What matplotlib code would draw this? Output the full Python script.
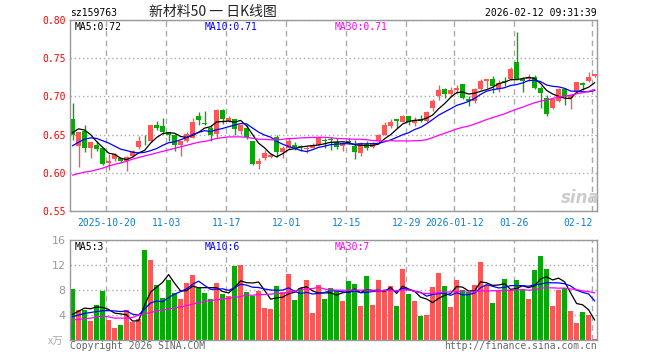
import matplotlib.pyplot as plt
import numpy as np
import pandas as pd

# daily candles, 2025-10-10 .. 2026-02-12 (88 trading days)
opens = [0.671, 0.635, 0.655, 0.632, 0.637, 0.632, 0.613, 0.618, 0.619, 0.616,
         0.622, 0.634, 0.642, 0.641, 0.662, 0.661, 0.653, 0.650, 0.636, 0.641,
         0.646, 0.674, 0.665, 0.658, 0.651, 0.682, 0.6675, 0.671, 0.655, 0.659,
         0.641, 0.612, 0.620, 0.621, 0.647, 0.627, 0.6325, 0.637, 0.634, 0.631,
         0.6325, 0.637, 0.642, 0.6434, 0.640, 0.6346, 0.641, 0.6355, 0.626, 0.638,
         0.6335, 0.641, 0.650, 0.661, 0.6706, 0.667, 0.674, 0.6654, 0.671, 0.668,
         0.6846, 0.7004, 0.7101, 0.7026, 0.7079, 0.7158, 0.696, 0.6938, 0.7101, 0.7201,
         0.7232, 0.7092, 0.7195, 0.7224, 0.7451, 0.7232, 0.7224, 0.7259, 0.7105, 0.6983,
         0.6842, 0.6938, 0.7101, 0.6983, 0.7070, 0.7171, 0.7201, 0.7267]
highs = [0.691, 0.654, 0.662, 0.640, 0.641, 0.633, 0.624, 0.626, 0.620, 0.622,
         0.630, 0.648, 0.650, 0.662, 0.668, 0.672, 0.654, 0.651, 0.642, 0.654,
         0.672, 0.680, 0.681, 0.663, 0.684, 0.683, 0.675, 0.671, 0.663, 0.663,
         0.641, 0.620, 0.630, 0.626, 0.649, 0.6355, 0.6457, 0.640, 0.637, 0.6355,
         0.639, 0.647, 0.6457, 0.647, 0.6457, 0.640, 0.6457, 0.6434, 0.640, 0.641,
         0.640, 0.651, 0.666, 0.6706, 0.671, 0.6763, 0.675, 0.673, 0.6763, 0.681,
         0.697, 0.7145, 0.711, 0.7124, 0.7145, 0.7165, 0.7004, 0.7114, 0.7232, 0.7224,
         0.7267, 0.721, 0.7259, 0.7386, 0.7846, 0.7259, 0.729, 0.7276, 0.7136, 0.7013,
         0.697, 0.711, 0.7114, 0.702, 0.7188, 0.7188, 0.732, 0.729]
lows = [0.643, 0.608, 0.627, 0.620, 0.629, 0.610, 0.604, 0.616, 0.613, 0.603,
        0.621, 0.631, 0.636, 0.640, 0.656, 0.651, 0.641, 0.629, 0.622, 0.640,
        0.645, 0.663, 0.663, 0.642, 0.645, 0.664, 0.666, 0.650, 0.651, 0.644,
        0.6105, 0.605, 0.617, 0.620, 0.621, 0.620, 0.631, 0.630, 0.628, 0.626,
        0.632, 0.636, 0.6325, 0.630, 0.631, 0.628, 0.638, 0.618, 0.622, 0.630,
        0.633, 0.640, 0.649, 0.659, 0.659, 0.666, 0.6632, 0.661, 0.666, 0.667,
        0.6807, 0.6951, 0.6983, 0.701, 0.7026, 0.697, 0.6873, 0.6917, 0.7084, 0.7114,
        0.7049, 0.706, 0.7136, 0.721, 0.721, 0.7059, 0.7201, 0.7092, 0.6842, 0.675,
        0.6829, 0.6925, 0.6882, 0.6829, 0.7057, 0.7084, 0.7182, 0.725]
closes = [0.649, 0.653, 0.632, 0.640, 0.631, 0.611, 0.615, 0.624, 0.615, 0.621,
          0.628, 0.642, 0.641, 0.662, 0.658, 0.653, 0.649, 0.637, 0.641, 0.651,
          0.667, 0.669, 0.6645, 0.650, 0.682, 0.670, 0.672, 0.657, 0.662, 0.647,
          0.612, 0.616, 0.626, 0.623, 0.627, 0.633, 0.642, 0.633, 0.6335, 0.6325,
          0.637, 0.6457, 0.6415, 0.643, 0.634, 0.639, 0.6405, 0.627, 0.6395, 0.6325,
          0.639, 0.650, 0.662, 0.666, 0.6675, 0.6737, 0.6667, 0.6697, 0.6675, 0.680,
          0.6937, 0.7079, 0.7036, 0.7079, 0.7114, 0.698, 0.6945, 0.7092, 0.7201, 0.7224,
          0.7136, 0.7180, 0.7190, 0.7364, 0.7232, 0.7201, 0.7259, 0.7114, 0.704, 0.6776,
          0.697, 0.7101, 0.6996, 0.7013, 0.7188, 0.7149, 0.7254, 0.729]
# volume, in 万
volumes = [8.16, 4.80, 4.80, 3.04, 5.60, 7.84, 3.20, 1.87, 2.40, 4.80,
           2.93, 3.36, 14.40, 12.80, 8.80, 6.77, 9.60, 7.47, 6.56, 9.07,
           10.40, 8.27, 7.57, 6.56, 9.07, 7.36, 7.04, 11.84, 12.00, 7.63,
           7.09, 7.84, 5.17, 4.96, 8.64, 7.63, 10.56, 6.40, 8.37, 9.60,
           4.37, 8.80, 6.56, 8.37, 7.84, 6.24, 9.44, 8.96, 5.44, 10.24,
           5.60, 9.60, 8.00, 8.64, 5.44, 11.36, 7.36, 6.24, 3.84, 4.00,
           8.48, 10.72, 8.64, 5.33, 9.60, 8.00, 7.63, 8.80, 12.53, 8.80,
           5.92, 8.00, 9.76, 8.00, 9.60, 8.00, 6.56, 11.20, 13.44, 11.36,
           5.49, 8.00, 8.27, 4.64, 2.77, 4.48, 4.00, 0.16]

# moving-average values before a full window exists
ma5_head = [0.6526, 0.6575, 0.6560, 0.6500]
ma10_head = [0.6355, 0.6400, 0.6440, 0.6457, 0.6450, 0.6420, 0.6390, 0.6350, 0.6310]
ma30_head = [0.597, 0.599, 0.601, 0.602, 0.604, 0.606, 0.609, 0.611, 0.613, 0.615,
             0.618, 0.620, 0.622, 0.624, 0.626, 0.628, 0.630, 0.632, 0.634, 0.636,
             0.638, 0.640, 0.641, 0.643, 0.645, 0.646, 0.647, 0.647, 0.647]
vma5_head = [4.1, 4.6, 5.1, 5.0]
vma10_head = [3.73, 4.0, 4.25, 4.4, 4.55, 4.69, 4.7, 4.65, 4.55]
vma30_head = [3.2, 3.3, 3.4, 3.5, 3.7, 3.85, 3.7, 3.5, 3.5, 3.5,
              3.6, 4.0, 4.2, 4.4, 4.6, 4.8, 4.95, 5.1, 5.3, 5.5,
              5.75, 6.0, 6.15, 6.3, 6.45, 6.55, 6.67, 6.8, 6.95]

tick_dates = ["2025-10-20", "2025-11-03", "2025-11-17", "2025-12-01", "2025-12-15",
              "2025-12-29", "2026-01-12", "2026-01-26", "2026-02-12"]
tick_labels = ["2025-10-20", "11-03", "11-17", "12-01", "12-15",
               "12-29", "2026-01-12", "01-26", "02-12"]
price_ticks = [0.55, 0.60, 0.65, 0.70, 0.75, 0.80]
volume_ticks = [4, 8, 12, 16]

RED = "#fc5656"
GREEN = "#08a808"
GRID = "#aaaaaa"
W, H = 660, 360


def moving_average(values, window, head):
    ma = pd.Series(values).rolling(window).mean().to_numpy()
    ma[: len(head)] = head
    return ma


def px(x, y):
    return x / W, 1 - y / H


days = pd.bdate_range("2025-10-10", "2026-02-12")
days = days[~days.isin(pd.to_datetime(["2026-01-01", "2026-01-02"]))]
tick_pos = [days.get_loc(pd.Timestamp(d)) - 0.38 for d in tick_dates]

o = np.array(opens)
c = np.array(closes)
x = np.arange(len(days))
colors = np.where(c > o, RED, GREEN)

plt.rcParams["font.family"] = ["DejaVu Sans Mono"]
fig = plt.figure(figsize=(W / 100, H / 100), dpi=100)
ax = fig.add_axes([70 / W, 1 - 211 / H, 527 / W, 191 / H])
axv = fig.add_axes([70 / W, 1 - 340 / H, 527 / W, 100 / H])

ax.vlines(x, lows, highs, colors=colors, lw=1)
ax.bar(x, np.maximum(np.abs(c - o), 0.0012), bottom=np.minimum(o, c),
       width=0.78, color=colors, linewidth=0)
ax.plot(x, moving_average(closes, 5, ma5_head), color="black", lw=0.9)
ax.plot(x, moving_average(closes, 10, ma10_head), color="#0000ff", lw=0.9)
ax.plot(x, moving_average(closes, 30, ma30_head), color="#ff00ff", lw=0.9)
ax.set_ylim(0.55, 0.8)
ax.set_yticks(price_ticks, [f"{t:.2f}" for t in price_ticks])
ax.set_xticks(tick_pos, tick_labels)
ax.tick_params(axis="y", length=0, pad=3, labelsize=7, labelcolor="#ff0000")
ax.tick_params(axis="x", length=0, pad=5, labelsize=7, labelcolor="#0a7ed6")
ax.get_xticklabels()[-1].set_ha("right")

axv.bar(x, volumes, width=0.78, color=colors, linewidth=0)
axv.plot(x, moving_average(volumes, 5, vma5_head), color="black", lw=0.9)
axv.plot(x, moving_average(volumes, 10, vma10_head), color="#0000ff", lw=0.9)
axv.plot(x, moving_average(volumes, 30, vma30_head), color="#ff00ff", lw=0.9)
axv.set_ylim(0, 16)
axv.set_yticks(volume_ticks, [str(t) for t in volume_ticks])
axv.set_xticks(tick_pos, [])
axv.tick_params(axis="both", length=0, pad=3, labelsize=8, labelcolor="#999999")
for lab in axv.get_yticklabels():
    lab.set_family("DejaVu Sans")

for a in (ax, axv):
    a.set_xlim(-0.43, 87.4)
    a.set_axisbelow(True)
    a.grid(axis="x", color=GRID, linestyle=(0, (4, 3)), lw=1)
    a.grid(axis="y", color=GRID, linestyle=(0, (1, 2)), lw=1)
    for s in a.spines.values():
        s.set_color("#999999")
        s.set_linewidth(1)

# header
fig.text(*px(70, 13), "sz159763", fontsize=7, va="center", ha="left")
fig.text(*px(213, 12), "新材料50 一 日K线图", fontsize=10, va="center", ha="center",
         color="#222222", family=["Noto Sans CJK SC", "DejaVu Sans"])
fig.text(*px(597, 13), "2026-02-12 09:31:39", fontsize=7, va="center", ha="right")

# legends
fig.text(*px(75, 27), "MA5:0.72", fontsize=7, va="center", color="black")
fig.text(*px(205, 27), "MA10:0.71", fontsize=7, va="center", color="#0000ff")
fig.text(*px(335, 27), "MA30:0.71", fontsize=7, va="center", color="#ff00ff")
fig.text(*px(75, 247), "MA5:3", fontsize=7, va="center", color="black")
fig.text(*px(205, 247), "MA10:6", fontsize=7, va="center", color="#0000ff")
fig.text(*px(335, 247), "MA30:7", fontsize=7, va="center", color="#ff00ff")

# footer and watermark
fig.text(*px(56, 342), "x万", fontsize=7.5, va="center", ha="center", color="#aaaaaa",
         style="italic", family=["Noto Sans CJK SC", "DejaVu Sans"])
fig.text(*px(70, 346), "Copyright 2026 SINA.COM", fontsize=7, va="center", color="#666666")
fig.text(*px(597, 346), "http://finance.sina.com.cn", fontsize=7, va="center",
         ha="right", color="#666666")
fig.text(*px(580, 198), "sina", fontsize=12, fontweight="bold", style="italic",
         va="center", ha="center", color="#cccccc", family="DejaVu Sans")

fig.savefig("out.png", dpi=100)
